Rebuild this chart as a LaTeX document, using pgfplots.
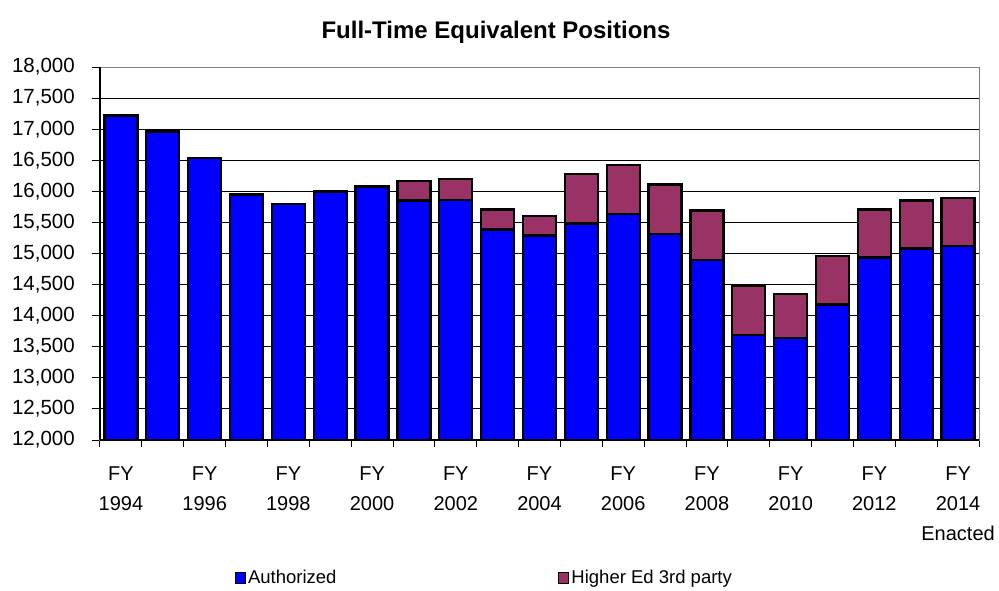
\documentclass[border=0pt]{standalone}
\usepackage{pgfplots}
\pgfplotsset{compat=1.18}
\usepackage{pgfplotstable}
\usepackage{fontspec}
\setmainfont{Liberation Sans}
\definecolor{authblue}{RGB}{0,0,255}
\definecolor{hemaroon}{RGB}{153,51,102}
\definecolor{frame}{RGB}{128,128,128}
\pgfplotstableread{
x year auth higher
0 1994 17220 0
1 1995 16960 0
2 1996 16540 0
3 1997 15950 0
4 1998 15800 0
5 1999 15995 0
6 2000 16080 0
7 2001 15850 320
8 2002 15865 335
9 2003 15387 323
10 2004 15290 316
11 2005 15484 796
12 2006 15640 786
13 2007 15315 798
14 2008 14897 796
15 2009 13688 796
16 2010 13645 701
17 2011 14177 780
18 2012 14935 774
19 2013 15080 774
20 2014 15120 770
}\fte
\begin{document}
\begin{tikzpicture}
\begin{axis}[
  scale only axis,
  width=879pt, height=373pt,
  ybar stacked,
  bar width=33pt,
  xmin=-0.5, xmax=20.5,
  ymin=12000, ymax=18000,
  ytick={12000,12500,...,18000},
  xtick={0,2,...,20},
  xticklabels={{FY\\1994},{FY\\1996},{FY\\1998},{FY\\2000},{FY\\2002},{FY\\2004},{FY\\2006},{FY\\2008},{FY\\2010},{FY\\2012},{FY\\2014\\Enacted}},
  minor xtick={-0.5,0.5,...,20.5},
  xtick pos=bottom, ytick pos=left,
  every major x tick/.append style={draw=none},
  tick align=outside,
  major tick length=8pt,
  minor tick length=7pt,
  tick style={black, line width=1pt},
  ymajorgrids,
  grid style={black, line width=0.9pt},
  axis line style={frame, line width=1pt},
  /pgf/number format/assume math mode=true,
  /pgf/number format/1000 sep={,},
  scaled y ticks=false,
  yticklabel style={font=\fontsize{20.5}{24}\selectfont, inner sep=0pt, xshift=-17pt},
  xticklabel style={font=\fontsize{20}{30}\selectfont, align=center, inner sep=0pt, yshift=-19pt},
  legend columns=2,
  legend style={draw=none, fill=none, at={(rel axis cs:0.150,-0.37)}, anchor=west,
    font=\fontsize{18.5}{22}\selectfont,
    /tikz/every even column/.append style={column sep=220pt}},
  legend image code/.code={\draw[#1, draw=black, line width=1pt] (0pt,-5.5pt) rectangle (10pt,5.5pt);},
  clip=false,
]
\addplot+[fill=authblue, draw=black, line width=2.4pt] table[x=x, y=auth] {\fte};
\addlegendentry{Authorized}
\addplot+[fill=hemaroon, draw=black, line width=2.4pt] table[x=x, y=higher] {\fte};
\addlegendentry{Higher Ed 3rd party}
\coordinate (o) at (rel axis cs:0,0);
\draw[black, line width=1.2pt] (rel axis cs:0,0) -- (rel axis cs:0,1);
\draw[black, line width=2.5pt] (rel axis cs:0,0) -- (rel axis cs:1,0);
\end{axis}
\node[font=\bfseries\fontsize{24}{28}\selectfont] at ([shift={(396pt,408pt)}]o) {Full-Time Equivalent Positions};
\pgfresetboundingbox
\path[use as bounding box] ([shift={(-100pt,-150pt)}]o) rectangle ([shift={(899pt,440pt)}]o);
\end{tikzpicture}
\end{document}
